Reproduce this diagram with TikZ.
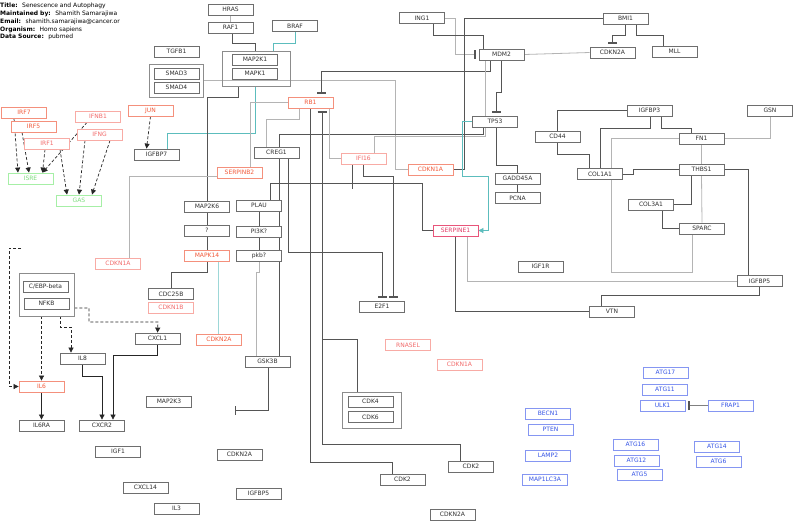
\documentclass[tikz,border=0pt]{standalone}
\usepackage{fontspec}
\setmainfont{DejaVu Sans}
\usetikzlibrary{arrows.meta,backgrounds}
\definecolor{boxgray}{HTML}{6E6E6E}
\definecolor{txtgray}{HTML}{303030}
\definecolor{grpgray}{HTML}{8C8C8C}
\definecolor{redbox}{HTML}{F4907C}
\definecolor{redtxt}{HTML}{F25A3A}
\definecolor{redlbox}{HTML}{F8ABA5}
\definecolor{redltxt}{HTML}{F26B6B}
\definecolor{crimbox}{HTML}{E8557A}
\definecolor{crimtxt}{HTML}{E33B66}
\definecolor{bluebox}{HTML}{8596F2}
\definecolor{bluetxt}{HTML}{3554E6}
\definecolor{greenbox}{HTML}{A6EFA6}
\definecolor{greentxt}{HTML}{7EDD7E}
\definecolor{linedark}{HTML}{555555}
\definecolor{linelight}{HTML}{B4B4B4}
\definecolor{lineteal}{HTML}{5CBDBD}

\begin{document}
\begin{tikzpicture}[x=1pt, y=-1pt, font=\fontsize{6}{7}\selectfont,
  gn/.style={draw=boxgray, fill=white, text=txtgray, line width=0.8pt,
             minimum width=45pt, minimum height=11pt, inner sep=1pt},
  rd/.style={gn, draw=redbox, text=redtxt},
  rl/.style={gn, draw=redlbox, text=redltxt},
  cr/.style={gn, draw=crimbox, text=crimtxt},
  bl/.style={gn, draw=bluebox, text=bluetxt},
  gr/.style={gn, draw=greenbox, text=greentxt},
  grp/.style={draw=grpgray, line width=0.8pt, inner sep=0pt},
  dk/.style={draw=linedark, line width=0.8pt},
  lt/.style={draw=linelight, line width=0.8pt},
  tl/.style={draw=lineteal, line width=0.8pt},
  act/.style={draw=black!85, line width=0.7pt, -{Triangle[width=5pt,length=5pt]}},
  dsh/.style={act, dash pattern=on 3pt off 2pt},
  inh/.style={dk, -{Bar[width=9pt,line width=1.4pt,color=linedark]}, shorten >=3pt},
]
\useasboundingbox (0,0) rectangle (800,528);

% header
\foreach \k/\y/\v in {Title:/5.5/Senescence and Autophagy,
                      Maintained by:/13.5/Shamith Samarajiwa,
                      Email:/21.5/shamith.samarajiwa@cancer.or,
                      Organism:/29.5/Homo sapiens,
                      Data Source:/37/pubmed}
  \node[anchor=west, inner sep=0pt] at (0,\y) {\textbf{\k}~ \v};

% groups
\node[grp, minimum width=68pt, minimum height=35pt] (mapkgrp) at (256,68.5) {};
\node[grp, minimum width=54pt, minimum height=33pt] (smadgrp) at (176,80.5) {};
\node[grp, minimum width=55pt, minimum height=43pt] (cebpgrp) at (46.5,294.5) {};
\node[grp, minimum width=59pt, minimum height=36pt] (cdkgrp) at (371.5,410) {};

% gene products
\foreach \n/\x/\y/\t in {hras/230.5/9.5/HRAS, raf1/230.5/27.5/RAF1, braf/295/26/BRAF,
    map2k1/255/59.5/MAP2K1, mapk1/255/73.5/MAPK1, tgfb1/176.5/51.5/TGFB1,
    smad3/176.5/73.5/SMAD3, smad4/176.5/87.5/SMAD4, igfbp7/156.5/154.5/IGFBP7,
    cebpb/45.5/286.5/{C/EBP-beta}, nfkb/46.5/303.5/NFKB, cdc25b/171/294/CDC25B,
    cxcl1/157.5/338.5/CXCL1, il8/82.5/358.5/IL8, il6ra/41.5/425.5/IL6RA,
    cxcr2/102/425.5/CXCR2, map2k3/169/401.5/MAP2K3, igf1/118/451.5/IGF1,
    cxcl14/145.5/487.5/CXCL14, il3/176.5/508.5/IL3, gsk3b/267.5/361.5/GSK3B,
    cdkn2aC/239.5/454.5/CDKN2A, igfbp5b/258.5/493.5/IGFBP5, cdk4/370.5/401.5/CDK4,
    cdk6/370.5/417/CDK6, cdk2a/402.5/479.5/CDK2, cdk2b/471/466.5/CDK2,
    cdkn2aD/452.5/514.5/CDKN2A, creg1/276.5/152.5/CREG1, ing1/422/18/ING1,
    mdm2/501.5/54.5/MDM2, tp53/495/121.5/TP53, cd44/557.5/136.5/CD44,
    gadd45a/517.5/178.5/GADD45A, pcna/517.5/198/PCNA, col1a1/600/174/COL1A1,
    bmi1/625.5/18.5/BMI1, cdkn2aA/612.5/52.5/CDKN2A, mll/674.5/51.5/MLL,
    igfbp3/649.5/110.5/IGFBP3, gsn/770/110.5/GSN, fn1/701.5/138.5/FN1,
    thbs1/701.5/169.5/THBS1, col3a1/651/204.5/COL3A1, sparc/702/228.5/SPARC,
    igfbp5a/759.5/281/IGFBP5, vtn/612/311.5/VTN, igf1r/540.5/266.5/IGF1R,
    e2f1/382/306.5/E2F1, plau/259/205.5/PLAU, pi3k/259/231.5/PI3K?,
    pkb/259/255.5/pkb?, map2k6/207/206.5/MAP2K6, qm/207/230.5/?}
  \node[gn] (\n) at (\x,\y) {\t};

\foreach \n/\x/\y/\t in {rb1/310.5/102.5/RB1, irf7/24/112.5/IRF7, irf5/33.5/126.5/IRF5,
    jun/150.5/110.5/JUN, serpinb2/239.5/172.5/SERPINB2, mapk14/207/255.5/MAPK14,
    il6/41.5/386.5/IL6, cdkn2aB/219/339.5/CDKN2A, cdkn1aA/430.5/169.5/CDKN1A}
  \node[rd] (\n) at (\x,\y) {\t};

\foreach \n/\x/\y/\t in {irf1/47/143.5/IRF1, ifnb1/98/116.5/IFNB1, ifng/99.5/134.5/IFNG,
    ifi16/363.5/158.5/IFI16, cdkn1aB/118/263.5/CDKN1A, cdkn1b/171/307.5/CDKN1B,
    rnasel/408/345/RNASEL, cdkn1aC/459.5/364.5/CDKN1A}
  \node[rl] (\n) at (\x,\y) {\t};

\node[cr] (serpine1) at (455.5,230.5) {SERPINE1};

\foreach \n/\x/\y/\t in {isre/30.5/178.5/ISRE, gas/79/200.5/GAS}
  \node[gr] (\n) at (\x,\y) {\t};

\foreach \n/\x/\y/\t in {becn1/548/413.5/BECN1, pten/550.5/429.5/PTEN, lamp2/548/455.5/LAMP2,
    map1lc3a/545/479.5/MAP1LC3A, atg17/665.5/372.5/ATG17, atg11/665/389.5/ATG11,
    ulk1/662.5/405.5/ULK1, frap1/730.5/405.5/FRAP1, atg16/635.5/444.5/ATG16,
    atg12/636.5/460.5/ATG12, atg5/639.5/474.5/ATG5, atg14/717/446.5/ATG14,
    atg6/718.5/461.5/ATG6}
  \node[bl] (\n) at (\x,\y) {\t};

\coordinate (il6src) at (21,248);
\coordinate (gskend) at (235,410);

\begin{pgfonlayer}{background}
  \fill[white] (0,0) rectangle (800,528);
  % MAPK branch
  \draw[lt] (hras) -- (raf1);
  \draw[dk] ([xshift=1.5pt]raf1.south) -- ++(0,10) -| ([xshift=-1pt]mapkgrp.north);
  \draw[tl] (braf.south) -- ++(0,11) -| ([xshift=17pt]mapkgrp.north);
  \draw[tl] ([xshift=10.5pt]igfbp7.north) -- ++(0,-15) -| ([xshift=-1pt]mapkgrp.south);
  \draw[dk] ([xshift=-18pt]mapkgrp.south) -- ++(0,11) -| (map2k6.north);
  \draw[lt] (smadgrp.east) -- (395,80.5) |- (cdkn1aA.west);
  \draw[dk] (map2k6) -- (qm);
  \draw[dk] (qm) -- (mapk14);
  \draw[tl, draw=lineteal!60] ([xshift=11pt]mapk14.south) -- ([xshift=-1pt]cdkn2aB.north);
  \draw[dk] (mapk14.south) -- ++(0,11) -| (cdc25b.north);
  \draw[lt] ([yshift=-3.5pt]serpinb2.west) -| ([xshift=11pt]cdkn1aB.north);
  % interferon
  \draw[dsh] ([xshift=-10pt]irf7.south) -- ([xshift=-12.5pt]isre.north);
  \draw[dsh] ([xshift=-11.5pt]irf5.south) -- ([xshift=-1.5pt]isre.north);
  \draw[dsh] ([xshift=-2pt]irf1.south) -- ([xshift=12pt]isre.north);
  \draw[dsh] ([xshift=-11pt]ifnb1.south) -- ([xshift=12pt]isre.north);
  \draw[dsh] ([xshift=13pt]irf1.south) -- ([xshift=-12pt]gas.north);
  \draw[dsh] ([xshift=-14.5pt]ifng.south) -- (gas.north);
  \draw[dsh] ([xshift=10.5pt]ifng.south) -- ([xshift=13pt]gas.north);
  \draw[dsh] (jun.south) -- ([xshift=-10pt]igfbp7.north);
  % cytokines
  \draw[dsh] (cebpgrp.south -| il6.north) -- (il6.north);
  \draw[dsh] ([xshift=13.5pt]cebpgrp.south) -- ++(0,11) -| ([xshift=-11.5pt]il8.north);
  \draw[dsh] ([yshift=-13.5pt]cebpgrp.east) -- (89,308) |- (158,322) -- (cxcl1.north);
  \draw[dsh] (il6src) -- (9,248) |- (il6.west);
  \draw[act] (il6) -- (il6ra);
  \draw[act] (il8.south) -- ++(0,12) -| (cxcr2.north);
  \draw[act] (cxcl1.south) -- ++(0,11) -| ([xshift=11pt]cxcr2.north);
  % PI3K / GSK3B
  \draw[dk] (plau) -- (pi3k);
  \draw[dk] (pi3k) -- (pkb);
  \draw[lt] (pkb.south) -- ++(0,11) -| ([xshift=-11.5pt]gsk3b.north);
  \draw[inh, shorten >=0pt] ([xshift=0.5pt]gsk3b.south) |- (gskend);
  \draw[dk] ([xshift=11.5pt]gsk3b.north) |- (483,134) -- ([xshift=-12pt]tp53.south);
  % RB1 / E2F1
  \draw[inh] ([xshift=11.5pt]creg1.south) -- (288,252) -| (e2f1.north);
  \draw[inh] (ifi16.south) -- ++(0,12) -| ([xshift=11pt]e2f1.north);
  \draw[dk] ([xshift=-11pt]ifi16.south) -- (352.5,189);
  \draw[lt] (rb1.west) -| ([xshift=10.5pt]serpinb2.north);
  \draw[lt] ([xshift=-11.5pt]rb1.south) -- ++(0,11) -| ([xshift=-10.5pt]creg1.north);
  \draw[lt] ([xshift=18.5pt]rb1.south) |- (ifi16.west);
  \draw[dk] (rb1.south) -- (310.5,462) -| ([xshift=-10.5pt]cdk2a.north);
  \draw[inh, line width=1pt] ([xshift=-11pt]cdk2b.north) -- ++(0,-16.5) -| ([xshift=11.5pt]rb1.south);
  \draw[dk] ([xshift=-14.5pt]cdkgrp.north) -- (357,339) -- (322,339);
  \draw[inh] ([xshift=-11.5pt]mdm2.south) -- ++(0,11) -| ([xshift=10.5pt]rb1.north);
  % p53 axis
  \draw[inh] (mdm2.south) -- ++(0,32) -| ([xshift=1pt]tp53.north);
  \draw[inh, draw=linelight] (ing1.east) -- (455,18) |- (mdm2.west);
  \draw[dk] ([xshift=11pt]ing1.south) -- ++(0,11) -| ([xshift=-18.5pt]mdm2.north);
  \draw[lt] ([xshift=10.5pt]ifi16.north) -- ++(0,-16.5) -| ([xshift=-16.5pt]mdm2.south);
  \draw[dk] (cdkn1aA.east) -- (464,169.5) |- (bmi1.west);
  \draw[lt] (mdm2.east) -- (cdkn2aA.west);
  \draw[inh] (bmi1.south) -- ++(0,11) -| (cdkn2aA.north);
  \draw[dk] ([xshift=11pt]bmi1.south) -- ++(0,11) -| ([xshift=-11.5pt]mll.north);
  \draw[dk] ([xshift=1pt]tp53.south) -- ++(0,38) -| (gadd45a.north);
  \draw[dk] (gadd45a) -- (pcna);
  \draw[tl, -{Triangle[width=5pt,length=5pt]}] (tp53.west) -| (462,176) -| (488,230.5) -- (serpine1.east);
  % matrix
  \draw[dk] ([xshift=11pt]plau.north) -- ++(0,-16.5) -| (422,230.5) -- (serpine1.west);
  \draw[lt] ([xshift=11.5pt]serpine1.south) |- (igfbp5a.west);
  \draw[dk] (serpine1.south) |- (vtn.west);
  \draw[dk] (igfbp5a.south) -- ++(0,8) -| ([xshift=-11pt]vtn.north);
  \draw[dk] (cd44.north) |- (igfbp3.west);
  \draw[dk] (cd44.south) -- ++(0,12) -| ([xshift=-11pt]col1a1.north);
  \draw[dk] ([xshift=0.5pt]igfbp3.south) -- ++(0,12) -| (col1a1.north);
  \draw[dk] ([xshift=11.5pt]igfbp3.south) -- ++(0,12) -| ([xshift=-10.5pt]fn1.north);
  \draw[lt] (fn1.west) -- (611,138.5) |- (692,272) -- ([xshift=-10pt]sparc.south);
  \draw[lt] (fn1.east) -| (gsn.south);
  \draw[lt] (fn1) -- (thbs1);
  \draw[dk] (thbs1.west) -- (633,169.5) |- (col1a1.east);
  \draw[dk] (thbs1.east) -| ([xshift=-11.5pt]igfbp5a.north);
  \draw[dk] ([xshift=-10.5pt]thbs1.south) |- (col3a1.east);
  \draw[lt] (thbs1.south) -- (sparc.north);
  \draw[dk] ([xshift=11pt]col3a1.south) |- (sparc.west);
  % autophagy
  \draw[inh, draw=gray] (frap1.west) -- (ulk1.east);
\end{pgfonlayer}
\end{tikzpicture}
\end{document}
